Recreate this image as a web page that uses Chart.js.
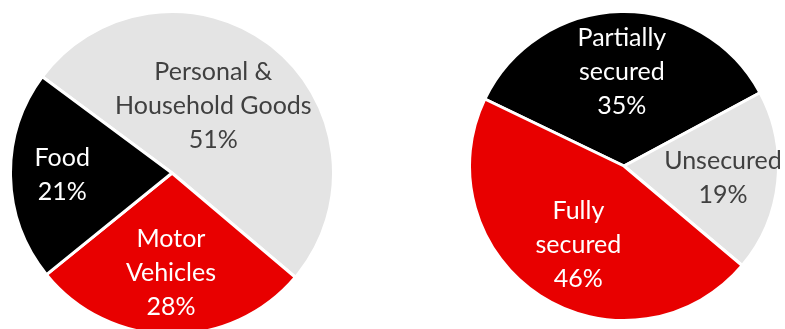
<!DOCTYPE html>
<html>
<head>
<meta charset="utf-8">
<script src="https://cdn.jsdelivr.net/npm/chart.js@4"></script>
<style>
  html, body { margin: 0; padding: 0; background: #fff; overflow: hidden; }
  body { width: 785px; height: 329px; position: relative; }
  .pie { position: absolute; }
  #leftBox { left: 9px; top: 10px; width: 326px; height: 326px; }
  #rightBox { left: 468px; top: 10px; width: 312px; height: 312px; }
</style>
</head>
<body>
<div class="pie" id="leftBox"><canvas id="sectorChart"></canvas></div>
<div class="pie" id="rightBox"><canvas id="securityChart"></canvas></div>
<script>
// ===== Data =====
const sectorLabels = [["Personal &", "Household Goods"], ["Motor", "Vehicles"], ["Food"]];
const sectorValues = [51, 28, 21];
const securityLabels = [["Partially", "secured"], ["Unsecured"], ["Fully", "secured"]];
const securityValues = [35, 19, 46];

const RED = "#e80000", BLACK = "#000000", GREY = "#e4e4e4";

// ===== In-slice labels =====
const sliceLabels = {
  id: "sliceLabels",
  afterDatasetsDraw(chart, args, opts) {
    const ctx = chart.ctx;
    const meta = chart.getDatasetMeta(0);
    const data = chart.data.datasets[0].data;
    const total = data.reduce((a, b) => a + b, 0);
    ctx.save();
    ctx.font = opts.font;
    ctx.textAlign = "center";
    ctx.textBaseline = "middle";
    meta.data.forEach((arc, i) => {
      const p = arc.getProps(["x", "y", "startAngle", "endAngle", "outerRadius"], true);
      const mid = (p.startAngle + p.endAngle) / 2 + (opts.shift[i] || 0);
      const r = p.outerRadius * opts.dist[i];
      const cx = p.x + Math.cos(mid) * r;
      const cy = p.y + Math.sin(mid) * r;
      const lbl = chart.data.labels[i];
      const lines = (Array.isArray(lbl) ? lbl : [lbl]).concat(Math.round(data[i] / total * 100) + "%");
      ctx.fillStyle = opts.colors[i];
      const lh = opts.lineHeight;
      lines.forEach((t, k) => {
        ctx.fillText(t, cx, cy + (k - (lines.length - 1) / 2) * lh);
      });
    });
    ctx.restore();
  }
};

function makePie(id, labels, values, colors, textColors, rotation, dist, shift) {
  new Chart(document.getElementById(id), {
    type: "pie",
    data: {
      labels: labels,
      datasets: [{
        data: values,
        backgroundColor: colors,
        borderColor: "#ffffff",
        borderWidth: 3,
      }]
    },
    options: {
      responsive: true,
      maintainAspectRatio: false,
      animation: false,
      rotation: rotation,
      layout: { padding: 0 },
      plugins: {
        legend: { display: false },
        tooltip: { enabled: false },
        sliceLabels: {
          font: "25px Lato",
          lineHeight: 34,
          colors: textColors,
          dist: dist,
          shift: shift
        }
      }
    },
    plugins: [sliceLabels]
  });
}

makePie("sectorChart", sectorLabels, sectorValues, [GREY, RED, BLACK],
  ["#404040", "#ffffff", "#ffffff"], -53.4, [0.49, 0.62, 0.68], [-0.12, 0, 0]);
makePie("securityChart", securityLabels, securityValues, [BLACK, GREY, RED],
  ["#ffffff", "#404040", "#ffffff"], -64.3, [0.61, 0.645, 0.59], [0, 0.014, -0.05]);
</script>
</body>
</html>
